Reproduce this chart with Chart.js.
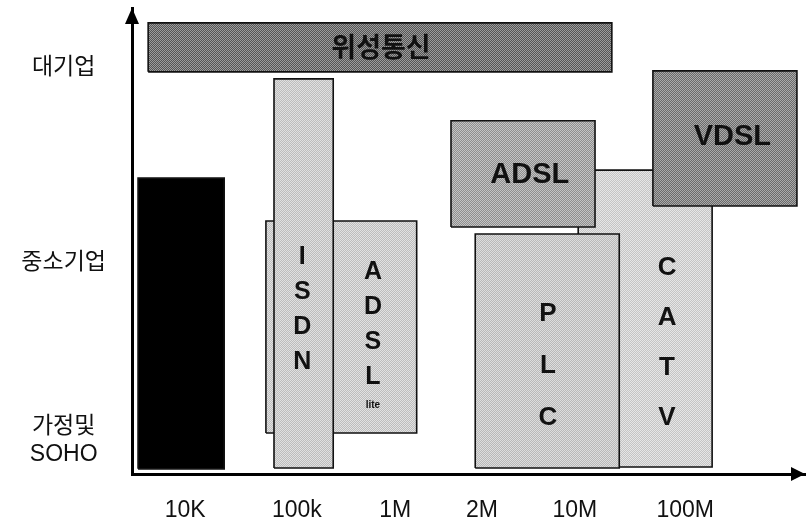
<!DOCTYPE html>
<html>
<head>
<meta charset="utf-8">
<script src="https://cdn.jsdelivr.net/npm/chart.js@4.4.1/dist/chart.umd.min.js"></script>
<style>
  html, body { margin: 0; padding: 0; background: #fff; }
  #wrap { width: 806px; height: 522px; }
</style>
</head>
<body>
<div id="wrap"><canvas id="accessChart"></canvas></div>
<script>
// 가입자망 기술: 속도(x) / 사용자 규모(y) 범위, 아래에 깔리는 것부터
var bandNames = ['CATV', 'PLC', 'ADSL', 'VDSL', 'ADSL lite', 'ISDN', '전화모뎀', '위성통신'];
var speedFrom = [66.3, 51.0, 47.4, 77.4, 19.9, 21.1, 0.9, 2.4];
var speedTo   = [86.2, 72.4, 68.8, 98.8, 42.3, 29.9, 13.7, 71.3];
var userFrom  = [1.5, 1.3, 53.0, 57.5, 8.8, 1.3, 1.1, 86.3];
var userTo    = [65.2, 51.5, 75.8, 86.5, 54.3, 84.8, 63.5, 96.8];

// 상자 안 글자와 그 위치 (같은 축 단위)
var labelText = ['C\nA\nT\nV', 'P\nL\nC', 'ADSL', 'VDSL', 'A\nD\nS\nL', 'I\nS\nD\nN', '', '위성통신'];
var labelX = [79.5, 61.8, 59.1, 89.2, 35.8, 25.3, 0, 37.0];
var labelY = [28.2, 23.3, 64.2, 72.3, 32.0, 35.2, 0, 91.6];

// 축 눈금
var speedTicks = ['10K', '100k', '1M', '2M', '10M', '100M'];
var speedTickAt = [7.9, 24.5, 39.1, 52.0, 65.8, 82.2];
var userTicks = [['가정및', 'SOHO'], '중소기업', '대기업'];
var userTickAt = [7.1, 45.3, 87.1];

// 망점 느낌의 회색 (두 색 체크무늬)
var tones = [['#c4c4c4', '#e6e6e6'], ['#b8b8b8', '#dddddd'], ['#8e8e8e', '#c4c4c4'], ['#6a6a6a', '#aaaaaa'],
    ['#bdbdbd', '#e2e2e2'], ['#bcbcbc', '#e0e0e0'], ['#000000', '#000000'], ['#555555', '#9c9c9c']];
var labelFonts = ['bold 26px "Liberation Sans"', 'bold 26px "Liberation Sans"', 'bold 29px "Liberation Sans"',
    'bold 29px "Liberation Sans"', 'bold 25px "Liberation Sans"', 'bold 25px "Liberation Sans"', '',
    'bold 27px "Noto Sans CJK KR"'];
var labelStep = [50, 52, 0, 0, 35, 35, 0, 0];

function dither(c1, c2) {
    var cv = document.createElement('canvas');
    cv.width = 2;
    cv.height = 2;
    var g = cv.getContext('2d');
    g.fillStyle = c1;
    g.fillRect(0, 0, 2, 2);
    g.fillStyle = c2;
    g.fillRect(0, 0, 1, 1);
    g.fillRect(1, 1, 1, 1);
    return g.createPattern(cv, 'repeat');
}

var datasets = bandNames.map(function(name, i) {
    return {
        label: name,
        data: [
            {x: speedFrom[i], y: userFrom[i]},
            {x: speedTo[i], y: userFrom[i]},
            {x: speedTo[i], y: userTo[i]},
            {x: speedFrom[i], y: userTo[i]},
            {x: speedFrom[i], y: userFrom[i]}
        ],
        fill: 'shape',
        backgroundColor: dither(tones[i][0], tones[i][1]),
        borderColor: '#111',
        borderWidth: 1.6,
        pointRadius: 0,
        tension: 0,
        order: bandNames.length - i
    };
});

var boxLabels = {
    id: 'boxLabels',
    afterDatasetsDraw: function(chart) {
        var ctx = chart.ctx, xs = chart.scales.x, ys = chart.scales.y;
        ctx.save();
        ctx.textAlign = 'center';
        ctx.textBaseline = 'middle';
        ctx.fillStyle = '#111';
        for (var i = 0; i < bandNames.length; i++) {
            if (!labelText[i]) continue;
            var lines = labelText[i].split('\n');
            var cx = xs.getPixelForValue(labelX[i]);
            var cy = ys.getPixelForValue(labelY[i]);
            var top = cy - (lines.length - 1) * labelStep[i] / 2;
            ctx.font = labelFonts[i];
            for (var k = 0; k < lines.length; k++) {
                ctx.fillText(lines[k], cx, top + k * labelStep[i]);
            }
        }
        // ADSL lite 의 작은 글씨
        ctx.font = 'bold 10px "Liberation Sans"';
        ctx.fillText('lite', xs.getPixelForValue(35.8), ys.getPixelForValue(14.8));
        ctx.restore();
    }
};

var axisArrows = {
    id: 'axisArrows',
    afterDraw: function(chart) {
        var ctx = chart.ctx, a = chart.chartArea;
        ctx.save();
        ctx.fillStyle = '#000';
        ctx.beginPath();
        ctx.moveTo(a.left, a.top);
        ctx.lineTo(a.left - 7, a.top + 16);
        ctx.lineTo(a.left + 7, a.top + 16);
        ctx.closePath();
        ctx.fill();
        ctx.beginPath();
        ctx.moveTo(a.right, a.bottom);
        ctx.lineTo(a.right - 14, a.bottom - 7);
        ctx.lineTo(a.right - 14, a.bottom + 7);
        ctx.closePath();
        ctx.fill();
        ctx.restore();
    }
};

function noEdgePadding(scale) {
    scale.paddingTop = 0;
    scale.paddingBottom = 0;
    scale.paddingLeft = 0;
    scale.paddingRight = 0;
}

var ctx = document.getElementById('accessChart');
new Chart(ctx.getContext('2d'), {
    type: 'line',
    data: { datasets: datasets },
    plugins: [boxLabels, axisArrows],
    options: {
        responsive: true,
        maintainAspectRatio: false,
        animation: false,
        layout: { padding: { left: 0, right: 1, top: 8, bottom: 0 } },
        plugins: {
            legend: { display: false },
            tooltip: { enabled: false }
        },
        scales: {
            x: {
                type: 'linear',
                min: 0,
                max: 100,
                grid: { display: false, drawTicks: false },
                border: { display: true, color: '#000', width: 3 },
                afterBuildTicks: function(scale) {
                    scale.ticks = speedTickAt.map(function(v) { return {value: v}; });
                },
                afterFit: function(scale) {
                    scale.height = 48;
                    noEdgePadding(scale);
                },
                ticks: {
                    autoSkip: false,
                    maxRotation: 0,
                    padding: 23,
                    color: '#111',
                    font: { family: '"Liberation Sans", "Noto Sans CJK KR"', size: 23 },
                    callback: function(value, index) { return speedTicks[index]; }
                }
            },
            y: {
                type: 'linear',
                min: 0,
                max: 100,
                grid: { display: false, drawTicks: false },
                border: { display: true, color: '#000', width: 3 },
                afterBuildTicks: function(scale) {
                    scale.ticks = userTickAt.map(function(v) { return {value: v}; });
                },
                afterFit: function(scale) {
                    scale.width = 132;
                    noEdgePadding(scale);
                },
                ticks: {
                    autoSkip: false,
                    crossAlign: 'center',
                    padding: 26,
                    color: '#111',
                    font: { family: '"Liberation Sans", "Noto Sans CJK KR"', size: 23, lineHeight: 1.2 },
                    callback: function(value, index) { return userTicks[index]; }
                }
            }
        }
    }
});
</script>
</body>
</html>
